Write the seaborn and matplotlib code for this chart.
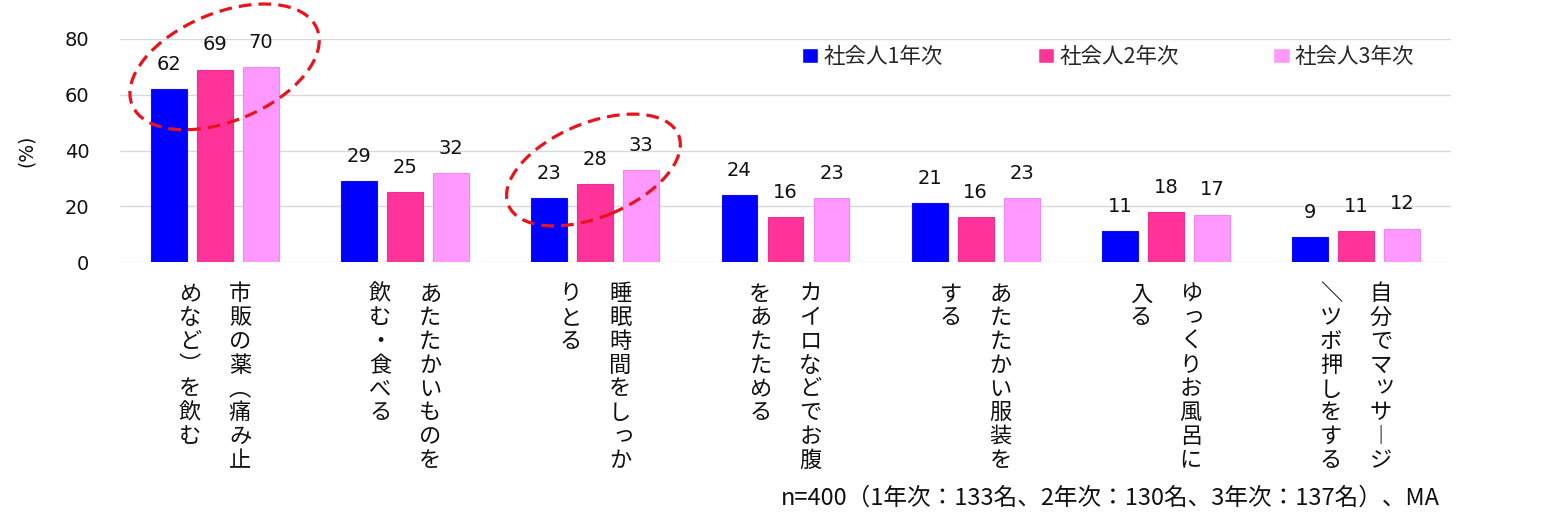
import matplotlib
matplotlib.use("Agg")
import matplotlib.pyplot as plt
import matplotlib.transforms as mtransforms
from matplotlib.patches import Ellipse
import seaborn as sns
import pandas as pd

# ---------------- data ----------------
label_lines = [
    ["市販の薬（痛み止", "めなど）を飲む"],
    ["あたたかいものを", "飲む・食べる"],
    ["睡眠時間をしっか", "りとる"],
    ["カイロなどでお腹", "をあたためる"],
    ["あたたかい服装を", "する"],
    ["ゆっくりお風呂に", "入る"],
    ["自分でマッサージ", "／ツボ押しをする"],
]
categories = ["".join(l) for l in label_lines]
series_names = ["社会人1年次", "社会人2年次", "社会人3年次"]
year1 = [62, 29, 23, 24, 21, 11, 9]
year2 = [69, 25, 28, 16, 16, 18, 11]
year3 = [70, 32, 33, 23, 23, 17, 12]
y_ticks = [0, 20, 40, 60, 80]
highlight_groups = [0, 2]
footnote = "n=400（1年次：133名、2年次：130名、3年次：137名）、MA"

colors = ["#0000FF", "#FF3399", "#FF99FF"]
edge_colors = ["#1010E8", "#F03090", "#F088F0"]

df = pd.DataFrame({
    "category": categories * 3,
    "series": sum([[s] * len(categories) for s in series_names], []),
    "value": year1 + year2 + year3,
})

sns.set_theme(style="white")
plt.rcParams["font.family"] = ["DejaVu Sans", "Noto Sans CJK JP"]
cjk = ["Noto Sans CJK JP", "DejaVu Sans"]

fig = plt.figure(figsize=(15.56, 5.28), dpi=100)
ax = fig.add_axes([120 / 1556, 1 - 262 / 528, 1331 / 1556, 223 / 528])

sns.barplot(data=df, x="category", y="value", hue="series",
            order=categories, hue_order=series_names, palette=colors,
            saturation=1, width=0.726, gap=0.22, ax=ax, legend=True)

for cont, ec in zip(ax.containers, edge_colors):
    for b in cont:
        b.set_edgecolor(ec)
        b.set_linewidth(0.8)
    ax.bar_label(cont, fmt="%d", padding=11, fontsize=14, color="#111111")

ax.set_ylim(0, 80)
ax.set_xlim(-0.5, len(categories) - 0.5)
ax.set_yticks(y_ticks)
ax.tick_params(axis="y", length=0, pad=22, labelsize=14, labelcolor="#111111")
ax.set_xticks(range(len(categories)))
ax.set_xticklabels([])
ax.tick_params(axis="x", length=0)
ax.set_xlabel("")
ax.set_ylabel("(%)", fontsize=13.5, color="#111111")
ax.yaxis.set_label_coords(-0.063, 0.5)
ax.grid(axis="y", color="#D9D9D9", linewidth=1)
ax.set_axisbelow(True)
for s in ax.spines.values():
    s.set_visible(False)

# legend
handles, labels = ax.get_legend_handles_labels()
ax.get_legend().remove()
fig.legend(handles, labels, loc="center left",
           bbox_to_anchor=(802 / 1556, 1 - 57 / 528), bbox_transform=fig.transFigure,
           ncol=3, frameon=False, handlelength=0.75, handleheight=0.7,
           handletextpad=0.25, columnspacing=4.4, borderpad=0, borderaxespad=0,
           prop={"family": cjk, "size": 15.5})

# vertical category labels
vert_map = {"（": "︵", "）": "︶", "ー": "︱", "／": "＼"}
small_kana = set("っゃゅょッャュョ")
px2pt = 72 / 100
for ci, lines in enumerate(label_lines):
    for j, line in enumerate(lines):
        dx = (25 - 50 * j)
        for i, ch in enumerate(line):
            dy = -(32 + 23.75 * i)
            ox, oy = 0, 0
            if ch in small_kana:
                ox, oy = 3, 3
            ax.annotate(vert_map.get(ch, ch), xy=(ci, 0),
                        xycoords=("data", "axes fraction"),
                        xytext=((dx + ox) * px2pt, (dy + oy) * px2pt),
                        textcoords="offset points", ha="center", va="center",
                        fontsize=16, family=cjk,
                        color="#111111", annotation_clip=False)

# dashed highlight ellipses
ell_specs = [(2.0, 1.08, 0.05), (1.84, 0.94, -0.01)]
for gi, (w, h, off) in zip(highlight_groups, ell_specs):
    ymax = max(year1[gi], year2[gi], year3[gi])
    tr = fig.dpi_scale_trans + mtransforms.ScaledTranslation(gi + off, ymax, ax.transData)
    e = Ellipse((0, 0), w, h, angle=22.5, transform=tr, fill=False,
                edgecolor="#E8141C", linewidth=2.3, linestyle=(0, (4, 2.2)),
                clip_on=False)
    fig.add_artist(e)

fig.text(1440 / 1556, 1 - 498 / 528, footnote, ha="right", va="center",
         fontsize=17, family=cjk, color="#111111")

fig.savefig("out.png", dpi=100, facecolor="white")
